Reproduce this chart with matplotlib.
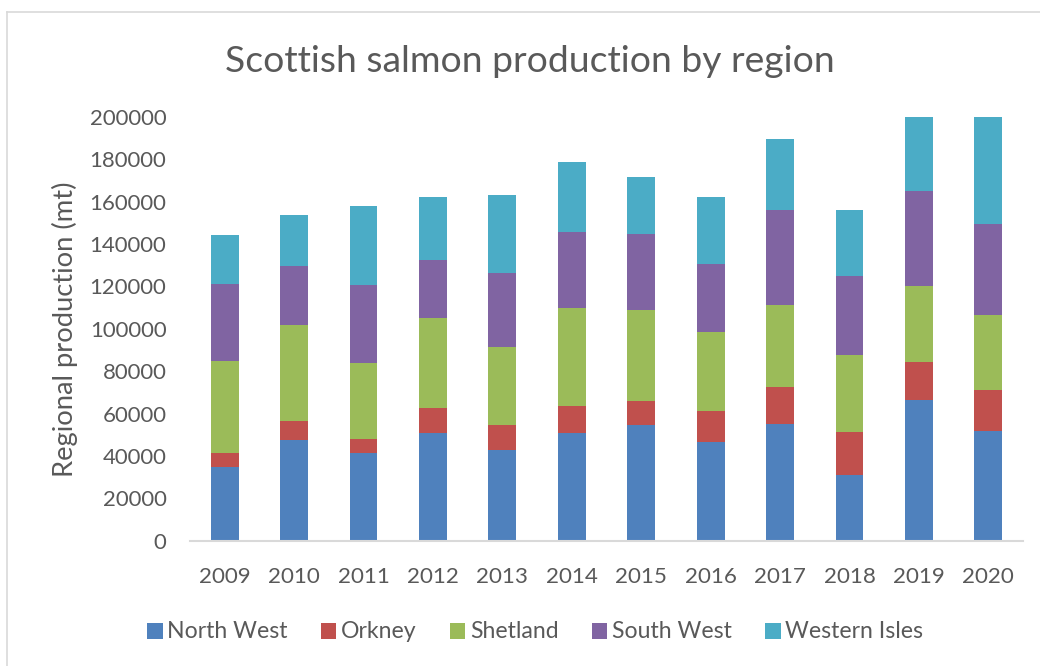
import matplotlib
matplotlib.use("Agg")
import matplotlib.pyplot as plt
import numpy as np
from matplotlib.patches import Patch
from matplotlib.lines import Line2D

plt.rcParams['font.family'] = ['Lato', 'DejaVu Sans']

years = ["2009", "2010", "2011", "2012", "2013", "2014",
         "2015", "2016", "2017", "2018", "2019", "2020"]
north_west = [34900, 47300, 41400, 50600, 42800, 50600, 54600, 46700, 55200, 30900, 66400, 51900]
orkney = [6600, 9300, 6800, 12000, 11800, 13100, 11400, 14500, 17200, 20300, 17800, 19100]
shetland = [43400, 45300, 35500, 42600, 36900, 46000, 42600, 37400, 38800, 36300, 36100, 35500]
south_west = [36100, 27600, 36900, 27000, 34800, 35700, 36100, 31700, 44800, 37400, 44800, 42900]
western_isles = [23000, 24300, 37200, 30100, 36600, 33400, 26800, 32000, 33500, 30900, 38000, 52000]

series_names = ["North West", "Orkney", "Shetland", "South West", "Western Isles"]
series_colors = ["#4F81BD", "#C0504D", "#9BBB59", "#8064A2", "#4BACC6"]
yticks = list(range(0, 200001, 20000))

W, H = 1040, 666
fig = plt.figure(figsize=(W / 100, H / 100), dpi=100)
fig.patch.set_facecolor("white")

# outer chart frame (only left/top visible)
fig.add_artist(Line2D([7 / W, 7 / W], [0, 1 - 12 / H], transform=fig.transFigure,
                      color="#d9d9d9", lw=1.2))
fig.add_artist(Line2D([7 / W, 1], [1 - 12 / H, 1 - 12 / H], transform=fig.transFigure,
                      color="#d9d9d9", lw=1.2))

ax = fig.add_axes([190 / W, 1 - 540.7 / H, (1023 - 190) / W, (540.7 - 116.7) / H])
x = np.arange(len(years))
bottom = np.zeros(len(years))
handles = []
for vals, color, name in zip([north_west, orkney, shetland, south_west, western_isles],
                             series_colors, series_names):
    v = np.array(vals, dtype=float)
    ax.bar(x, v, 0.40, bottom=bottom, color=color, edgecolor="none", zorder=2)
    bottom += v
    handles.append(Patch(facecolor=color, edgecolor="none"))

ax.set_xlim(-0.5, len(years) - 0.5)
ax.set_ylim(0, 200000)
ax.set_yticks(yticks)
ax.set_yticklabels([str(t) for t in yticks])
ax.set_xticks(x)
ax.set_xticklabels(years)
for s in ["top", "right", "left"]:
    ax.spines[s].set_visible(False)
ax.spines["bottom"].set_color("#d9d9d9")
ax.spines["bottom"].set_linewidth(1.5)
ax.tick_params(axis="both", length=0, colors="#595959", labelsize=16)
ax.tick_params(axis="y", pad=17)
ax.tick_params(axis="x", pad=19)

title = fig.text(530 / W, 1 - 72 / H, "Scottish salmon production by region",
                 ha="center", va="baseline", fontsize=25, color="#595959")
ylab = fig.text(65 / W, 1 - 329 / H, "Regional production (mt)", rotation=90,
                ha="center", va="center", fontsize=16, color="#595959")

leg = fig.legend(handles, series_names, loc="center", bbox_to_anchor=(535 / W, 1 - 632 / H),
                 ncol=5, frameon=False, handlelength=0.7, handleheight=0.7,
                 handletextpad=0.2, columnspacing=1.5, fontsize=16)
for t in leg.get_texts():
    t.set_color("#595959")

# fit font sizes to measured text widths in the reference
fig.canvas.draw()
r = fig.canvas.get_renderer()

def fit(txt, target):
    w = txt.get_window_extent(r).width
    txt.set_fontsize(txt.get_fontsize() * target / w)

fit(title, 610)
ylab_w = ylab.get_window_extent(r).height
ylab.set_fontsize(ylab.get_fontsize() * 298 / ylab_w)
yl = ax.get_yticklabels()[-1]
s_y = 77 / yl.get_window_extent(r).width
xl = ax.get_xticklabels()[0]
s_x = 52 / xl.get_window_extent(r).width
ax.tick_params(axis="y", labelsize=16 * s_y)
ax.tick_params(axis="x", labelsize=16 * s_x)
lt = leg.get_texts()[0]
s_l = 120 / lt.get_window_extent(r).width
for t in leg.get_texts():
    t.set_fontsize(16 * s_l)

fig.savefig("out.png", dpi=100, facecolor="white")
